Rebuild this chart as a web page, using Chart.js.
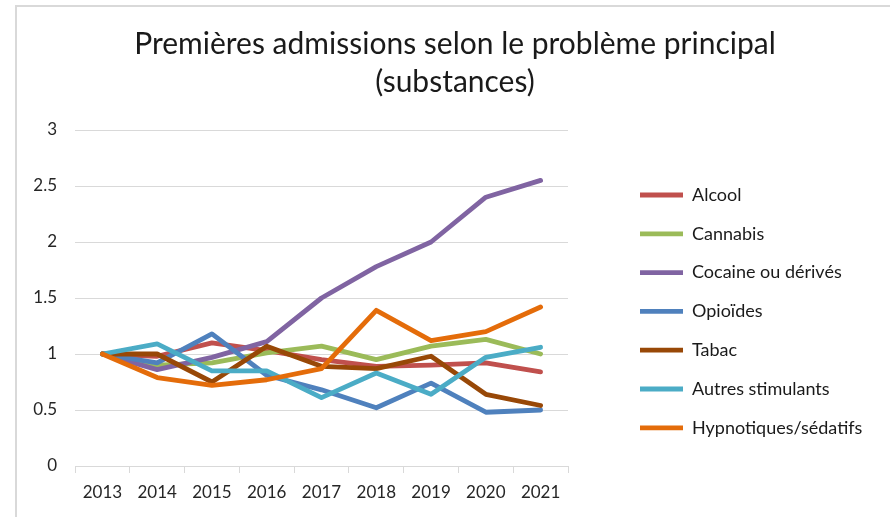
<!DOCTYPE html>
<html lang="fr">
<head>
<meta charset="UTF-8">
<title>Premières admissions</title>
<style>
  html, body { margin: 0; padding: 0; background: #fff; overflow: hidden; }
  #wrap { position: relative; width: 890px; height: 517px; }
  #frame { position: absolute; left: 15px; top: 5px; width: 900px; height: 540px;
           border-left: 2px solid #d9d9d9; border-top: 2px solid #d9d9d9; pointer-events: none; }
</style>
</head>
<body>
<div id="wrap">
  <canvas id="myChart" width="890" height="517"></canvas>
  <div id="frame"></div>
</div>

<script src="https://cdn.jsdelivr.net/npm/chart.js@4/dist/chart.umd.min.js"></script>
<script>
var years = ['2013', '2014', '2015', '2016', '2017', '2018', '2019', '2020', '2021'];

var alcool    = [1, 0.98, 1.10, 1.03, 0.95, 0.89, 0.90, 0.92, 0.84];
var cannabis  = [1, 0.90, 0.92, 1.01, 1.07, 0.95, 1.07, 1.13, 1.00];
var cocaine   = [1, 0.86, 0.97, 1.11, 1.50, 1.78, 2.00, 2.40, 2.55];
var opioides  = [1, 0.92, 1.18, 0.81, 0.68, 0.52, 0.74, 0.48, 0.50];
var tabac     = [1, 1.00, 0.75, 1.07, 0.89, 0.87, 0.98, 0.64, 0.54];
var autres    = [1, 1.09, 0.85, 0.85, 0.61, 0.83, 0.64, 0.97, 1.06];
var hypno     = [1, 0.79, 0.72, 0.77, 0.87, 1.39, 1.12, 1.20, 1.42];

var names  = ['Alcool', 'Cannabis', 'Cocaine ou dérivés', 'Opioïdes', 'Tabac', 'Autres stimulants', 'Hypnotiques/sédatifs'];
var series = [alcool, cannabis, cocaine, opioides, tabac, autres, hypno];
var colors = ['#c0504d', '#9bbb59', '#8064a2', '#4f81bd', '#984807', '#4bacc6', '#e46c0a'];

var yTicks = [0, 0.5, 1, 1.5, 2, 2.5, 3];

var FONT = 'Lato';
var legendSize = 18;

// width of the longest legend label, to put the legend where excel had it
var mctx = document.createElement('canvas').getContext('2d');
mctx.font = legendSize + 'px ' + FONT;
var longest = 0;
names.forEach(function (n) { longest = Math.max(longest, mctx.measureText(n).width); });
var restRight = Math.max(0, 188 - longest);

var datasets = series.map(function (d, i) {
    return {
        label: names[i],
        data: d,
        borderColor: colors[i],
        backgroundColor: colors[i],
        borderWidth: 4.8,
        borderCapStyle: 'round',
        borderJoinStyle: 'round',
        pointRadius: 0,
        pointHoverRadius: 0,
        tension: 0,
        fill: false,
        order: series.length - i   // later series on top, like excel
    };
});

var ctx = document.getElementById('myChart').getContext('2d');
var chart = new Chart(ctx, {
    type: 'line',
    data: {
        labels: years,
        datasets: datasets
    },
    options: {
        responsive: false,
        animation: false,
        layout: { padding: { left: 20, right: 0, top: 0, bottom: 0 } },
        plugins: {
            title: {
                display: true,
                text: ['Premières admissions selon le problème principal', '(substances)'],
                color: '#1a1a1a',
                font: { family: FONT, size: 30, weight: 'normal', lineHeight: 1.25 },
                padding: { top: 26, bottom: 29 }
            },
            legend: {
                position: 'right',
                align: 'start',
                fullSize: false,
                maxWidth: 400,
                title: {
                    display: true,
                    text: '',
                    font: { size: 10, lineHeight: 1.2 },
                    padding: { top: 23.2, bottom: 0 }
                },
                labels: {
                    usePointStyle: true,
                    pointStyle: 'line',
                    pointStyleWidth: 43,
                    padding: 20.8,
                    color: '#1a1a1a',
                    font: { family: FONT, size: legendSize },
                    sort: function (a, b) { return a.datasetIndex - b.datasetIndex; }
                }
            },
            tooltip: { enabled: false }
        },
        scales: {
            x: {
                offset: true,
                grid: {
                    display: true,
                    offset: true,
                    drawOnChartArea: false,
                    tickLength: 7,
                    color: '#d9d9d9'
                },
                border: { display: true, color: '#d9d9d9' },
                ticks: {
                    color: '#262626',
                    padding: 9,
                    maxRotation: 0,
                    font: { family: FONT, size: 17 }
                },
                afterFit: function (s) { s.height = 51; }
            },
            y: {
                min: 0,
                max: 3,
                afterBuildTicks: function (s) {
                    s.ticks = yTicks.map(function (v) { return { value: v }; });
                },
                grid: { color: '#d9d9d9', drawTicks: false },
                border: { display: false },
                ticks: {
                    color: '#262626',
                    padding: 18,
                    font: { family: FONT, size: 17 },
                    callback: function (v) { return String(v); }
                },
                afterFit: function (s) { s.width = 55; }
            },
            // empty space between plot and legend
            gap: {
                type: 'linear',
                position: 'right',
                display: true,
                grid: { display: false },
                border: { display: false },
                ticks: { display: false },
                afterFit: function (s) { s.width = 51.2; }
            },
            // empty space right of the legend
            edge: {
                type: 'linear',
                position: 'right',
                display: true,
                weight: 2000,
                grid: { display: false },
                border: { display: false },
                ticks: { display: false },
                afterFit: function (s) { s.width = restRight; }
            }
        }
    }
});
</script>
</body>
</html>
